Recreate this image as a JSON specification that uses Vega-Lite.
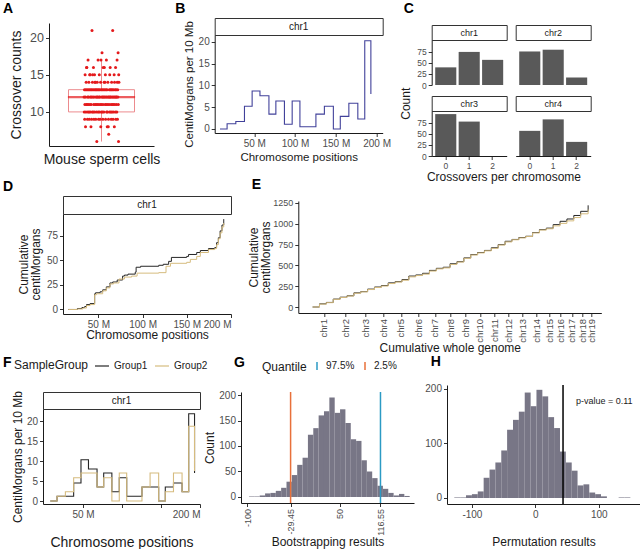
{
"$schema": "https://vega.github.io/schema/vega-lite/v6.json",
"background": "white",
"padding": {"left": 1, "top": 1, "right": 0, "bottom": 0},
"config": {
 "font": "Liberation Sans",
 "view": {"stroke": null},
 "axis": {"grid": false, "domainColor": "#1a1a1a", "domainWidth": 1, "tickColor": "#333333", "tickSize": 3.5, "labelColor": "#4d4d4d", "labelFontSize": 10, "titleColor": "#1a1a1a", "titleFontSize": 12, "titleFontWeight": "normal", "labelPadding": 2, "titlePadding": 4, "titleLineHeight": 12},
 "title": {"fontSize": 14, "fontWeight": "bold", "anchor": "start", "frame": "bounds", "color": "#000000", "offset": 2},
 "legend": {"titleFontWeight": "normal", "titleColor": "#1a1a1a", "labelColor": "#1a1a1a"}
},
"datasets": {
 "cells": [
{"i":1,"n":12},{"i":2,"n":10},{"i":3,"n":13},{"i":4,"n":9},{"i":5,"n":11},{"i":6,"n":15},{"i":7,"n":12},{"i":8,"n":8},{"i":9,"n":13},{"i":10,"n":10},{"i":11,"n":14},{"i":12,"n":11},{"i":13,"n":16},{"i":14,"n":16},
{"i":15,"n":13},{"i":16,"n":11},{"i":17,"n":9},{"i":18,"n":12},{"i":19,"n":10},{"i":20,"n":17},{"i":21,"n":13},{"i":22,"n":11},{"i":23,"n":12},{"i":24,"n":14},{"i":25,"n":10},{"i":26,"n":9},{"i":27,"n":13},{"i":28,"n":15},
{"i":29,"n":11},{"i":30,"n":15},{"i":31,"n":10},{"i":32,"n":12},{"i":33,"n":13},{"i":34,"n":8},{"i":35,"n":11},{"i":36,"n":12},{"i":37,"n":9},{"i":38,"n":13},{"i":39,"n":21},{"i":40,"n":10},{"i":41,"n":14},{"i":42,"n":15},
{"i":43,"n":12},{"i":44,"n":13},{"i":45,"n":10},{"i":46,"n":16},{"i":47,"n":11},{"i":48,"n":9},{"i":49,"n":12},{"i":50,"n":13},{"i":51,"n":15},{"i":52,"n":10},{"i":53,"n":14},{"i":54,"n":11},{"i":55,"n":14},{"i":56,"n":13},
{"i":57,"n":9},{"i":58,"n":12},{"i":59,"n":11},{"i":60,"n":13},{"i":61,"n":10},{"i":62,"n":6},{"i":63,"n":12},{"i":64,"n":14},{"i":65,"n":11},{"i":66,"n":13},{"i":67,"n":12},{"i":68,"n":17},{"i":69,"n":10},{"i":70,"n":9},
{"i":71,"n":13},{"i":72,"n":11},{"i":73,"n":12},{"i":74,"n":15},{"i":75,"n":10},{"i":76,"n":13},{"i":77,"n":12},{"i":78,"n":9},{"i":79,"n":11},{"i":80,"n":14},{"i":81,"n":8},{"i":82,"n":17},{"i":83,"n":13},{"i":84,"n":10},
{"i":85,"n":11},{"i":86,"n":12},{"i":87,"n":18},{"i":88,"n":13},{"i":89,"n":10},{"i":90,"n":12},{"i":91,"n":9},{"i":92,"n":11},{"i":93,"n":16},{"i":94,"n":13},{"i":95,"n":12},{"i":96,"n":10},{"i":97,"n":14},{"i":98,"n":16},
{"i":99,"n":12},{"i":100,"n":13},{"i":101,"n":14},{"i":102,"n":11},{"i":103,"n":15},{"i":104,"n":9},{"i":105,"n":12},{"i":106,"n":13},{"i":107,"n":11},{"i":108,"n":17},{"i":109,"n":10},{"i":110,"n":12},{"i":111,"n":13},{"i":112,"n":8},
{"i":113,"n":10},{"i":114,"n":11},{"i":115,"n":14},{"i":116,"n":12},{"i":117,"n":8},{"i":118,"n":9},{"i":119,"n":7},{"i":120,"n":12},{"i":121,"n":11},{"i":122,"n":13},{"i":123,"n":10},{"i":124,"n":15},{"i":125,"n":12},{"i":126,"n":16},
{"i":127,"n":13},{"i":128,"n":12},{"i":129,"n":10},{"i":130,"n":11},{"i":131,"n":9},{"i":132,"n":13},{"i":133,"n":14},{"i":134,"n":12},{"i":135,"n":10},{"i":136,"n":11},{"i":137,"n":13},{"i":138,"n":21},{"i":139,"n":12},{"i":140,"n":9},
{"i":141,"n":11},{"i":142,"n":10},{"i":143,"n":13},{"i":144,"n":12},{"i":145,"n":15},{"i":146,"n":8},{"i":147,"n":14},{"i":148,"n":11},{"i":149,"n":12},{"i":150,"n":13},{"i":151,"n":10},{"i":152,"n":16},{"i":153,"n":9},{"i":154,"n":12},
{"i":155,"n":13},{"i":156,"n":11},{"i":157,"n":12},{"i":158,"n":10},{"i":159,"n":17},{"i":160,"n":14},{"i":161,"n":9},{"i":162,"n":13},{"i":163,"n":12},{"i":164,"n":18},{"i":165,"n":11},{"i":166,"n":6},{"i":167,"n":15},{"i":168,"n":14}
 ],
 "bins": [{"pos":8,"cm":0},{"pos":16.7,"cm":1.2},{"pos":27.4,"cm":1.7},{"pos":38,"cm":5.2},{"pos":47.4,"cm":8.7},{"pos":57,"cm":7.6},{"pos":68,"cm":3.4},{"pos":76.5,"cm":6.4},{"pos":87,"cm":1.1},{"pos":96.5,"cm":6.4},{"pos":106,"cm":0.5},{"pos":116,"cm":0.5},{"pos":125.6,"cm":3.4},{"pos":136,"cm":5.2},{"pos":147,"cm":0},{"pos":155.5,"cm":2.9},{"pos":166,"cm":5.9},{"pos":177,"cm":2.3},{"pos":185.5,"cm":20.2},{"pos":193,"cm":8}],
 "binsg": [
{"g":"Group1","pos":8,"cm":0},{"g":"Group1","pos":16.7,"cm":1.2},{"g":"Group1","pos":27.4,"cm":1.2},{"g":"Group1","pos":38,"cm":4.5},{"g":"Group1","pos":47.4,"cm":10.3},{"g":"Group1","pos":57,"cm":8},{"g":"Group1","pos":68,"cm":3.5},{"g":"Group1","pos":76.5,"cm":7},{"g":"Group1","pos":87,"cm":2.3},{"g":"Group1","pos":96.5,"cm":5.8},{"g":"Group1","pos":106,"cm":1.2},{"g":"Group1","pos":116,"cm":1.2},{"g":"Group1","pos":125.6,"cm":3.5},{"g":"Group1","pos":136,"cm":3.5},{"g":"Group1","pos":147,"cm":0},{"g":"Group1","pos":155.5,"cm":3.5},{"g":"Group1","pos":166,"cm":4.5},{"g":"Group1","pos":177,"cm":2.3},{"g":"Group1","pos":185.5,"cm":21.8},{"g":"Group1","pos":193,"cm":7},
{"g":"Group2","pos":8,"cm":0},{"g":"Group2","pos":16.7,"cm":1.2},{"g":"Group2","pos":27.4,"cm":2.3},{"g":"Group2","pos":38,"cm":5.8},{"g":"Group2","pos":47.4,"cm":7},{"g":"Group2","pos":57,"cm":7},{"g":"Group2","pos":68,"cm":3.5},{"g":"Group2","pos":76.5,"cm":5.8},{"g":"Group2","pos":87,"cm":0},{"g":"Group2","pos":96.5,"cm":7},{"g":"Group2","pos":106,"cm":0},{"g":"Group2","pos":116,"cm":0},{"g":"Group2","pos":125.6,"cm":3.5},{"g":"Group2","pos":136,"cm":7},{"g":"Group2","pos":147,"cm":0},{"g":"Group2","pos":155.5,"cm":2.3},{"g":"Group2","pos":166,"cm":7},{"g":"Group2","pos":177,"cm":2.3},{"g":"Group2","pos":185.5,"cm":18.7},{"g":"Group2","pos":193,"cm":7.5}
 ],
 "co": [{"chr":"chr1","k":0,"n":40},{"chr":"chr1","k":1,"n":75},{"chr":"chr1","k":2,"n":57},{"chr":"chr2","k":0,"n":76},{"chr":"chr2","k":1,"n":80},{"chr":"chr2","k":2,"n":17},{"chr":"chr3","k":0,"n":95},{"chr":"chr3","k":1,"n":78},{"chr":"chr3","k":2,"n":0},{"chr":"chr4","k":0,"n":57},{"chr":"chr4","k":1,"n":83},{"chr":"chr4","k":2,"n":32}],
 "cumd": [
{"g":"Group1","pos":16.1,"cm":0},{"g":"Group1","pos":26.3,"cm":1},{"g":"Group1","pos":31.4,"cm":2},{"g":"Group1","pos":34.5,"cm":3},{"g":"Group1","pos":36.6,"cm":5},{"g":"Group1","pos":40.6,"cm":6},{"g":"Group1","pos":45.8,"cm":16},{"g":"Group1","pos":46.8,"cm":17},{"g":"Group1","pos":51.9,"cm":18},{"g":"Group1","pos":54.9,"cm":20},{"g":"Group1","pos":59,"cm":23},{"g":"Group1","pos":63.1,"cm":27},{"g":"Group1","pos":66.2,"cm":28},{"g":"Group1","pos":71.3,"cm":30},{"g":"Group1","pos":77.4,"cm":34},{"g":"Group1","pos":79.5,"cm":35},{"g":"Group1","pos":83.5,"cm":36},{"g":"Group1","pos":91.7,"cm":38},{"g":"Group1","pos":92.7,"cm":43},{"g":"Group1","pos":97.8,"cm":44},{"g":"Group1","pos":118.3,"cm":45},{"g":"Group1","pos":123.4,"cm":46},{"g":"Group1","pos":129.5,"cm":49},{"g":"Group1","pos":132.6,"cm":53},{"g":"Group1","pos":149.9,"cm":54},{"g":"Group1","pos":152,"cm":56},{"g":"Group1","pos":161.2,"cm":58},{"g":"Group1","pos":165.3,"cm":60},{"g":"Group1","pos":174.5,"cm":62},{"g":"Group1","pos":181.6,"cm":63},{"g":"Group1","pos":183.7,"cm":68},{"g":"Group1","pos":185.7,"cm":73},{"g":"Group1","pos":187.7,"cm":80},{"g":"Group1","pos":189.8,"cm":86},{"g":"Group1","pos":191.8,"cm":92},
{"g":"Group2","pos":16.1,"cm":0},{"g":"Group2","pos":26.3,"cm":0.5},{"g":"Group2","pos":32.5,"cm":1.5},{"g":"Group2","pos":36.6,"cm":4},{"g":"Group2","pos":40.6,"cm":5},{"g":"Group2","pos":45.8,"cm":15},{"g":"Group2","pos":47.8,"cm":16},{"g":"Group2","pos":54.9,"cm":19},{"g":"Group2","pos":59,"cm":22},{"g":"Group2","pos":63.1,"cm":26},{"g":"Group2","pos":67.2,"cm":27},{"g":"Group2","pos":73.3,"cm":31},{"g":"Group2","pos":79.5,"cm":33},{"g":"Group2","pos":87.6,"cm":34},{"g":"Group2","pos":93.8,"cm":37},{"g":"Group2","pos":118.3,"cm":37.5},{"g":"Group2","pos":126.5,"cm":44},{"g":"Group2","pos":131.6,"cm":47},{"g":"Group2","pos":149.9,"cm":48},{"g":"Group2","pos":154,"cm":51},{"g":"Group2","pos":161.2,"cm":54},{"g":"Group2","pos":165.3,"cm":58},{"g":"Group2","pos":174.5,"cm":61},{"g":"Group2","pos":181.6,"cm":62},{"g":"Group2","pos":183.7,"cm":66},{"g":"Group2","pos":185.7,"cm":72},{"g":"Group2","pos":187.7,"cm":78},{"g":"Group2","pos":189.8,"cm":84},{"g":"Group2","pos":191.8,"cm":88}
 ],
 "cume": [
{"g":"Group1","pos":0,"cm":0},{"g":"Group1","pos":60,"cm":38},{"g":"Group1","pos":120,"cm":55},{"g":"Group1","pos":180,"cm":95},{"g":"Group1","pos":240,"cm":118},{"g":"Group1","pos":300,"cm":135},{"g":"Group1","pos":360,"cm":170},{"g":"Group1","pos":420,"cm":185},{"g":"Group1","pos":480,"cm":215},{"g":"Group1","pos":540,"cm":240},{"g":"Group1","pos":600,"cm":258},{"g":"Group1","pos":660,"cm":290},{"g":"Group1","pos":720,"cm":305},{"g":"Group1","pos":780,"cm":330},{"g":"Group1","pos":840,"cm":372},{"g":"Group1","pos":900,"cm":385},{"g":"Group1","pos":960,"cm":405},{"g":"Group1","pos":1020,"cm":440},{"g":"Group1","pos":1080,"cm":465},{"g":"Group1","pos":1140,"cm":478},{"g":"Group1","pos":1200,"cm":520},{"g":"Group1","pos":1260,"cm":545},{"g":"Group1","pos":1320,"cm":590},{"g":"Group1","pos":1380,"cm":630},{"g":"Group1","pos":1440,"cm":655},{"g":"Group1","pos":1500,"cm":680},{"g":"Group1","pos":1560,"cm":712},{"g":"Group1","pos":1620,"cm":750},{"g":"Group1","pos":1680,"cm":790},{"g":"Group1","pos":1740,"cm":812},{"g":"Group1","pos":1800,"cm":835},{"g":"Group1","pos":1860,"cm":850},{"g":"Group1","pos":1920,"cm":895},{"g":"Group1","pos":1980,"cm":930},{"g":"Group1","pos":2040,"cm":948},{"g":"Group1","pos":2100,"cm":990},{"g":"Group1","pos":2160,"cm":1030},{"g":"Group1","pos":2220,"cm":1058},{"g":"Group1","pos":2280,"cm":1100},{"g":"Group1","pos":2340,"cm":1150},{"g":"Group1","pos":2405,"cm":1222},
{"g":"Group2","pos":0,"cm":0},{"g":"Group2","pos":60,"cm":35},{"g":"Group2","pos":120,"cm":52},{"g":"Group2","pos":180,"cm":92},{"g":"Group2","pos":240,"cm":115},{"g":"Group2","pos":300,"cm":132},{"g":"Group2","pos":360,"cm":165},{"g":"Group2","pos":420,"cm":182},{"g":"Group2","pos":480,"cm":210},{"g":"Group2","pos":540,"cm":235},{"g":"Group2","pos":600,"cm":252},{"g":"Group2","pos":660,"cm":282},{"g":"Group2","pos":720,"cm":300},{"g":"Group2","pos":780,"cm":322},{"g":"Group2","pos":840,"cm":362},{"g":"Group2","pos":900,"cm":378},{"g":"Group2","pos":960,"cm":395},{"g":"Group2","pos":1020,"cm":432},{"g":"Group2","pos":1080,"cm":458},{"g":"Group2","pos":1140,"cm":470},{"g":"Group2","pos":1200,"cm":512},{"g":"Group2","pos":1260,"cm":540},{"g":"Group2","pos":1320,"cm":585},{"g":"Group2","pos":1380,"cm":625},{"g":"Group2","pos":1440,"cm":650},{"g":"Group2","pos":1500,"cm":675},{"g":"Group2","pos":1560,"cm":705},{"g":"Group2","pos":1620,"cm":745},{"g":"Group2","pos":1680,"cm":782},{"g":"Group2","pos":1740,"cm":808},{"g":"Group2","pos":1800,"cm":830},{"g":"Group2","pos":1860,"cm":848},{"g":"Group2","pos":1920,"cm":890},{"g":"Group2","pos":1980,"cm":925},{"g":"Group2","pos":2040,"cm":940},{"g":"Group2","pos":2100,"cm":975},{"g":"Group2","pos":2160,"cm":1005},{"g":"Group2","pos":2220,"cm":1035},{"g":"Group2","pos":2280,"cm":1075},{"g":"Group2","pos":2340,"cm":1120},{"g":"Group2","pos":2405,"cm":1172}
 ],
 "boot": [
{"b0":-97,"b1":-88.3,"n":1},{"b0":-88.3,"b1":-79.6,"n":1},{"b0":-79.6,"b1":-70.9,"n":3},{"b0":-70.9,"b1":-62.2,"n":7},{"b0":-62.2,"b1":-53.5,"n":8},{"b0":-53.5,"b1":-44.8,"n":12},{"b0":-44.8,"b1":-36.1,"n":18},{"b0":-36.1,"b1":-27.4,"n":30},{"b0":-27.4,"b1":-18.7,"n":43},{"b0":-18.7,"b1":-10,"n":63},{"b0":-10,"b1":-1.3,"n":77},{"b0":-1.3,"b1":7.4,"n":122},{"b0":7.4,"b1":16.1,"n":135},{"b0":16.1,"b1":24.8,"n":160},{"b0":24.8,"b1":33.5,"n":168},{"b0":33.5,"b1":42.2,"n":195},{"b0":42.2,"b1":50.9,"n":165},{"b0":50.9,"b1":59.6,"n":172},{"b0":59.6,"b1":68.3,"n":145},{"b0":68.3,"b1":77,"n":113},{"b0":77,"b1":85.7,"n":110},{"b0":85.7,"b1":94.4,"n":72},{"b0":94.4,"b1":103.1,"n":50},{"b0":103.1,"b1":111.8,"n":37},{"b0":111.8,"b1":120.5,"n":22},{"b0":120.5,"b1":129.2,"n":16},{"b0":129.2,"b1":137.9,"n":8},{"b0":137.9,"b1":146.6,"n":3},{"b0":146.6,"b1":155.3,"n":6},{"b0":155.3,"b1":164,"n":2}
 ],
 "perm": [
{"b0":-127.8,"b1":-118.5,"n":1},{"b0":-118.5,"b1":-109.3,"n":1},{"b0":-109.3,"b1":-100,"n":5},{"b0":-100,"b1":-90.8,"n":7},{"b0":-90.8,"b1":-81.5,"n":12},{"b0":-81.5,"b1":-72.2,"n":37},{"b0":-72.2,"b1":-63,"n":52},{"b0":-63,"b1":-53.7,"n":65},{"b0":-53.7,"b1":-44.5,"n":87},{"b0":-44.5,"b1":-35.2,"n":125},{"b0":-35.2,"b1":-26,"n":143},{"b0":-26,"b1":-16.7,"n":158},{"b0":-16.7,"b1":-7.4,"n":193},{"b0":-7.4,"b1":1.8,"n":168},{"b0":1.8,"b1":11.1,"n":198},{"b0":11.1,"b1":20.3,"n":186},{"b0":20.3,"b1":29.6,"n":148},{"b0":29.6,"b1":38.9,"n":128},{"b0":38.9,"b1":48.1,"n":85},{"b0":48.1,"b1":57.4,"n":65},{"b0":57.4,"b1":66.6,"n":50},{"b0":66.6,"b1":75.9,"n":23},{"b0":75.9,"b1":85.1,"n":25},{"b0":85.1,"b1":94.4,"n":10},{"b0":94.4,"b1":103.6,"n":7},{"b0":103.6,"b1":112.9,"n":3},{"b0":131.4,"b1":140.7,"n":1},{"b0":140.7,"b1":149.9,"n":1}
 ]
},
"spacing": -6,
"resolve": {"scale": {"color": "independent"}, "legend": {"color": "independent"}},
"vconcat": [
 {"spacing": 0,
  "hconcat": [
   {"width": 1, "height": 1, "data": {"values": [{}]}, "mark": {"type": "text", "fontSize": 0}, "encoding": {"text": {"value": ""}}},
   {"spacing": 14.7,
    "hconcat": [
     {"spacing": 0, "bounds": "flush",
      "vconcat": [
       {"width": 105, "height": 5, "data": {"values": [{}]}, "mark": {"type": "text", "fontSize": 0}, "encoding": {"text": {"value": ""}}},
       {"title": {"text": "A", "dx": -6.6, "offset": 7},
        "width": 105, "height": 123,
        "data": {"name": "cells"},
        "encoding": {"y": {"field": "n", "type": "quantitative", "scale": {"domain": [5.4, 22.0], "nice": false, "zero": false}, "axis": {"values": [10, 15, 20], "title": "Crossover counts", "labelFontSize": 12.5, "titleFontSize": 14, "titlePadding": 6}}},
        "layer": [
          {"mark": {"type": "boxplot", "extent": 1.5, "size": 66, "outliers": false, "ticks": false, "box": {"fill": "transparent", "stroke": "#ec8b8e", "strokeWidth": 1}, "median": {"stroke": "#e41a1c", "strokeWidth": 1.2}, "rule": {"stroke": "#ec8b8e"}}},
          {"mark": {"type": "point", "filled": true, "size": 9, "color": "#e41a1c", "opacity": 1},
           "encoding": {"x": {"field": "i", "type": "quantitative", "scale": {"domain": [-167, 336], "nice": false, "zero": false}, "axis": {"title": "Mouse sperm cells", "labels": false, "ticks": false, "titleFontSize": 14, "titlePadding": 6}}}}
        ]}
      ]},
     {"spacing": 9,
      "hconcat": [
       {"title": {"text": "B", "dx": -8.5, "offset": 2}, "spacing": 0, "bounds": "flush",
        "vconcat": [
          {"width": 168, "height": 17, "data": {"values": [{"s": "chr1"}]}, "view": {"stroke": "#333333", "strokeWidth": 1, "fill": "white"}, "mark": {"type": "text", "fontSize": 10, "color": "#1a1a1a"}, "encoding": {"text": {"field": "s", "type": "nominal"}}},
          {"width": 168, "height": 98, "data": {"name": "bins"},
           "mark": {"type": "line", "interpolate": "step-after", "color": "#41419a", "strokeWidth": 1.1},
           "encoding": {
             "x": {"field": "pos", "type": "quantitative", "scale": {"domain": [1.5, 207.5], "nice": false, "zero": false}, "axis": {"values": [50, 100, 150, 200], "labelExpr": "datum.value + ' M'", "title": "Chromosome positions", "titleFontSize": 11.5, "titlePadding": 2.5}},
             "y": {"field": "cm", "type": "quantitative", "scale": {"domain": [-0.92, 21.53], "nice": false, "zero": false}, "axis": {"values": [0, 5, 10, 15, 20], "title": "CentiMorgans per 10 Mb", "titleFontSize": 11.5, "titlePadding": 3.4}}}}
        ]},
       {"title": {"text": "C", "dx": 4, "offset": 2}, "spacing": 0,
        "vconcat": [
          {"width": 10, "height": 6, "data": {"values": [{}]}, "mark": {"type": "text", "fontSize": 0}, "encoding": {"text": {"value": ""}}},
          {"title": {"text": "Count", "orient": "left", "anchor": "middle", "frame": "bounds", "fontSize": 12, "fontWeight": "normal", "color": "#1a1a1a", "offset": 4},
           "vconcat": [
             {"title": {"text": "Crossovers per chromosome", "orient": "bottom", "anchor": "middle", "frame": "bounds", "fontSize": 12, "fontWeight": "normal", "color": "#1a1a1a", "offset": 2}, "spacing": 5,
              "vconcat": [
                {"hconcat": [
                  {"spacing": 0, "bounds": "flush", "vconcat": [
                    {"width": 75, "height": 15, "data": {"values": [{"s": "chr1"}]}, "view": {"stroke": "#333333", "fill": "white"}, "mark": {"type": "text", "fontSize": 9, "color": "#1a1a1a"}, "encoding": {"text": {"field": "s", "type": "nominal"}}},
                    {"width": 75, "height": 45, "data": {"name": "co"}, "transform": [{"filter": "datum.chr === 'chr1'"}], "mark": {"type": "bar", "color": "#595959"},
                     "encoding": {"x": {"field": "k", "type": "ordinal", "scale": {"domain": [0, 1, 2], "paddingInner": 0.1, "paddingOuter": 0.15}, "axis": null},
                                  "y": {"field": "n", "type": "quantitative", "scale": {"domain": [0, 102], "nice": false}, "axis": {"values": [0, 25, 50, 75], "title": null, "labelFontSize": 8.5}}}}
                  ]},
                  {"spacing": 0, "bounds": "flush", "vconcat": [
                    {"width": 75, "height": 15, "data": {"values": [{"s": "chr2"}]}, "view": {"stroke": "#333333", "fill": "white"}, "mark": {"type": "text", "fontSize": 9, "color": "#1a1a1a"}, "encoding": {"text": {"field": "s", "type": "nominal"}}},
                    {"width": 75, "height": 45, "data": {"name": "co"}, "transform": [{"filter": "datum.chr === 'chr2'"}], "mark": {"type": "bar", "color": "#595959"},
                     "encoding": {"x": {"field": "k", "type": "ordinal", "scale": {"domain": [0, 1, 2], "paddingInner": 0.1, "paddingOuter": 0.15}, "axis": null},
                                  "y": {"field": "n", "type": "quantitative", "scale": {"domain": [0, 102], "nice": false}, "axis": null}}}
                  ]}
                 ], "spacing": 7},
                {"hconcat": [
                  {"spacing": 0, "bounds": "flush", "vconcat": [
                    {"width": 75, "height": 15, "data": {"values": [{"s": "chr3"}]}, "view": {"stroke": "#333333", "fill": "white"}, "mark": {"type": "text", "fontSize": 9, "color": "#1a1a1a"}, "encoding": {"text": {"field": "s", "type": "nominal"}}},
                    {"width": 75, "height": 45, "data": {"name": "co"}, "transform": [{"filter": "datum.chr === 'chr3'"}], "mark": {"type": "bar", "color": "#595959"},
                     "encoding": {"x": {"field": "k", "type": "ordinal", "scale": {"domain": [0, 1, 2], "paddingInner": 0.1, "paddingOuter": 0.15}, "axis": {"title": null, "labelAngle": 0, "labelFontSize": 8.5}},
                                  "y": {"field": "n", "type": "quantitative", "scale": {"domain": [0, 102], "nice": false}, "axis": {"values": [0, 25, 50, 75], "title": null, "labelFontSize": 8.5}}}}
                  ]},
                  {"spacing": 0, "bounds": "flush", "vconcat": [
                    {"width": 75, "height": 15, "data": {"values": [{"s": "chr4"}]}, "view": {"stroke": "#333333", "fill": "white"}, "mark": {"type": "text", "fontSize": 9, "color": "#1a1a1a"}, "encoding": {"text": {"field": "s", "type": "nominal"}}},
                    {"width": 75, "height": 45, "data": {"name": "co"}, "transform": [{"filter": "datum.chr === 'chr4'"}], "mark": {"type": "bar", "color": "#595959"},
                     "encoding": {"x": {"field": "k", "type": "ordinal", "scale": {"domain": [0, 1, 2], "paddingInner": 0.1, "paddingOuter": 0.15}, "axis": {"title": null, "labelAngle": 0, "labelFontSize": 8.5}},
                                  "y": {"field": "n", "type": "quantitative", "scale": {"domain": [0, 102], "nice": false}, "axis": null}}}
                  ]}
                 ], "spacing": 7}
              ]}
           ]}
        ]}
      ]}
    ]}
  ]},
 {"spacing": 0,
  "resolve": {"scale": {"color": "independent"}, "legend": {"color": "independent"}},
  "vconcat": [
   {"spacing": 0,
    "resolve": {"scale": {"color": "independent"}, "legend": {"color": "independent"}},
    "hconcat": [
     {"width": 1, "height": 1, "data": {"values": [{}]}, "mark": {"type": "text", "fontSize": 0}, "encoding": {"text": {"value": ""}}},
     {"spacing": 15.3,
      "resolve": {"scale": {"color": "independent"}, "legend": {"color": "independent"}},
      "hconcat": [
       {"title": {"text": "D", "dx": -15, "offset": 2}, "spacing": 0, "bounds": "flush",
        "vconcat": [
          {"width": 168, "height": 18, "data": {"values": [{"s": "chr1"}]}, "view": {"stroke": "#333333", "strokeWidth": 1, "fill": "white"}, "mark": {"type": "text", "fontSize": 10, "color": "#1a1a1a"}, "encoding": {"text": {"field": "s", "type": "nominal"}}},
          {"width": 168, "height": 100, "data": {"name": "cumd"},
           "mark": {"type": "line", "interpolate": "step-after", "strokeWidth": 1},
           "encoding": {
             "x": {"field": "pos", "type": "quantitative", "scale": {"domain": [10, 200], "nice": false, "zero": false}, "axis": {"values": [50, 100, 150, 200], "labelExpr": "datum.value + ' M'", "title": "Chromosome positions", "titlePadding": 0}},
             "y": {"field": "cm", "type": "quantitative", "scale": {"domain": [-4.6, 97.2], "nice": false, "zero": false}, "axis": {"values": [0, 25, 50, 75], "title": ["Cumulative", "centiMorgans"], "titlePadding": 3.4}},
             "color": {"field": "g", "type": "nominal", "scale": {"domain": ["Group1", "Group2"], "range": ["#262626", "#d6bc7f"]}, "legend": null}}}
        ]},
       {"spacing": 0, "bounds": "flush",
        "vconcat": [
         {"width": 303, "height": 5, "data": {"values": [{}]}, "mark": {"type": "text", "fontSize": 0}, "encoding": {"text": {"value": ""}}},
         {"title": {"text": "E", "dx": 4, "offset": 7},
          "width": 303, "height": 112, "data": {"name": "cume"},
          "mark": {"type": "line", "interpolate": "step-after", "strokeWidth": 1},
          "encoding": {
            "x": {"field": "pos", "type": "quantitative", "scale": {"domain": [-125, 2520], "nice": false, "zero": false},
                  "axis": {"values": [98, 287, 458, 616, 770, 921, 1068, 1206, 1333, 1460, 1587, 1708, 1828, 1951, 2065, 2166, 2263, 2356, 2432], "labelExpr": "'chr' + (indexof([98, 287, 458, 616, 770, 921, 1068, 1206, 1333, 1460, 1587, 1708, 1828, 1951, 2065, 2166, 2263, 2356, 2432], datum.value) + 1)", "labelAngle": 270, "labelFontSize": 9.5, "labelOverlap": false, "title": "Cumulative whole genome", "titlePadding": 0}},
            "y": {"field": "cm", "type": "quantitative", "scale": {"domain": [-72, 1274], "nice": false, "zero": false}, "axis": {"values": [0, 250, 500, 750, 1000, 1250], "format": "d", "labelFontSize": 9, "title": ["Cumulative", "centiMorgans"], "titlePadding": 0}},
            "color": {"field": "g", "type": "nominal", "scale": {"domain": ["Group1", "Group2"], "range": ["#262626", "#d6bc7f"]}, "legend": null}}}
        ]}
      ]}
    ]},
   {"spacing": 0,
    "resolve": {"scale": {"color": "independent"}, "legend": {"color": "independent"}},
    "hconcat": [
     {"width": 1, "height": 1, "data": {"values": [{}]}, "mark": {"type": "text", "fontSize": 0}, "encoding": {"text": {"value": ""}}},
     {"spacing": -5,
      "resolve": {"scale": {"color": "independent"}, "legend": {"color": "independent"}},
      "hconcat": [
       {"title": {"text": "F", "dx": -9, "offset": -12}, "spacing": 0, "bounds": "flush",
        "resolve": {"scale": {"color": "independent"}, "legend": {"color": "independent"}},
        "vconcat": [
          {"width": 157, "height": 7, "data": {"values": [{}]}, "mark": {"type": "text", "fontSize": 0}, "encoding": {"text": {"value": ""}}},
          {"width": 157, "height": 17, "data": {"values": [{"s": "chr1"}]}, "view": {"stroke": "#333333", "strokeWidth": 1, "fill": "white"}, "mark": {"type": "text", "fontSize": 10, "color": "#1a1a1a"}, "encoding": {"text": {"field": "s", "type": "nominal"}}},
          {"width": 157, "height": 95, "data": {"name": "binsg"},
           "mark": {"type": "line", "interpolate": "step-after", "strokeWidth": 1.1},
           "encoding": {
             "x": {"field": "pos", "type": "quantitative", "scale": {"domain": [-1.3, 200], "nice": false, "zero": false}, "axis": {"values": [50, 100, 150, 200], "labelExpr": "datum.value + ' M'", "title": "Chromosome positions", "titleFontSize": 14, "titlePadding": 15.5}},
             "y": {"field": "cm", "type": "quantitative", "scale": {"domain": [-0.75, 23], "nice": false, "zero": false}, "axis": {"values": [0, 5, 10, 15, 20], "title": "CentiMorgans per 10 Mb", "titlePadding": 1.5}},
             "color": {"field": "g", "type": "nominal", "scale": {"domain": ["Group1", "Group2"], "range": ["#262626", "#d6bc7f"]},
                       "legend": {"orient": "none", "legendX": -29, "legendY": -51, "direction": "horizontal", "title": "SampleGroup", "titleOrient": "left", "titleFontSize": 12, "labelFontSize": 10, "symbolType": "stroke", "symbolSize": 196, "symbolStrokeWidth": 1.2, "columnPadding": 4, "labelOffset": 4, "titlePadding": 5}}}}
        ]},
       {"spacing": 10,
        "resolve": {"scale": {"color": "independent"}, "legend": {"color": "independent"}},
        "hconcat": [
         {"title": {"text": "G", "dx": 31, "offset": -9}, "spacing": 0, "bounds": "flush",
          "resolve": {"scale": {"color": "independent"}, "legend": {"color": "independent"}},
          "vconcat": [
           {"width": 173, "height": 7, "data": {"values": [{}]}, "mark": {"type": "text", "fontSize": 0}, "encoding": {"text": {"value": ""}}},
           {"width": 173, "height": 111,
            "layer": [
              {"data": {"name": "boot"}, "mark": {"type": "bar", "color": "#787686"},
               "encoding": {
                 "x": {"field": "b0", "type": "quantitative", "scale": {"domain": [-110, 171], "nice": false, "zero": false},
                       "axis": {"values": [-100, -50, -29.45, 0, 50, 75, 116.55, 150], "labelExpr": "toString(datum.value)", "labelAngle": 270, "labelFontSize": 9, "labelOverlap": false, "title": "Bootstrapping results", "titlePadding": 1}},
                 "x2": {"field": "b1"},
                 "y": {"field": "n", "type": "quantitative", "scale": {"domain": [-11.8, 205.9], "nice": false, "zero": false}, "axis": {"values": [0, 50, 100, 150, 200], "title": "Count", "titlePadding": 2.8}},
                 "y2": {"datum": 0}}},
              {"data": {"values": [{"q": "97.5%", "v": 116.55}, {"q": "2.5%", "v": -29.45}]}, "mark": {"type": "rule", "strokeWidth": 1.5},
               "encoding": {
                 "x": {"field": "v", "type": "quantitative"},
                 "color": {"field": "q", "type": "nominal", "scale": {"domain": ["97.5%", "2.5%"], "range": ["#2b9ac4", "#e8703a"]},
                           "legend": {"orient": "none", "legendX": 21, "legendY": -31, "direction": "horizontal", "title": "Quantile", "titleOrient": "left", "titleFontSize": 12, "labelFontSize": 10, "symbolType": "M0,-1L0,1", "symbolSize": 64, "symbolStrokeWidth": 1.5, "columnPadding": 5, "labelOffset": 4, "titlePadding": 5}}}}
            ]}
          ]},
         {"title": {"text": "H", "dx": 6, "offset": 15}, "width": 193, "height": 119,
          "layer": [
            {"data": {"name": "perm"}, "mark": {"type": "bar", "color": "#787686"},
             "encoding": {
               "x": {"field": "b0", "type": "quantitative", "scale": {"domain": [-139.3, 165.1], "nice": false, "zero": false},
                     "axis": {"values": [-100, -50, 0, 50, 100, 150], "labelExpr": "toString(datum.value)", "title": "Permutation results", "titlePadding": 17}},
               "x2": {"field": "b1"},
               "y": {"field": "n", "type": "quantitative", "scale": {"domain": [-11, 206.8], "nice": false, "zero": false}, "axis": {"values": [0, 50, 100, 150, 200], "title": null}},
               "y2": {"datum": 0}}},
            {"data": {"values": [{"v": 43.7}]}, "mark": {"type": "rule", "strokeWidth": 1.5, "color": "#000000"},
             "encoding": {"x": {"field": "v", "type": "quantitative"}}},
            {"data": {"values": [{"x": 64, "y": 178, "t": "p-value = 0.11"}]}, "mark": {"type": "text", "align": "left", "fontSize": 9, "color": "#1a1a1a"},
             "encoding": {"x": {"field": "x", "type": "quantitative"}, "y": {"field": "y", "type": "quantitative"}, "text": {"field": "t", "type": "nominal"}}}
          ]}
        ]}
      ]}
    ]}
  ]}
]
}
